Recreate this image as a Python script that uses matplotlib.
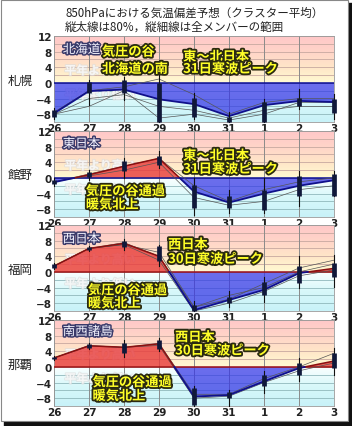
import numpy as np
import matplotlib.pyplot as plt
import matplotlib.patheffects as pe
from matplotlib.colors import LinearSegmentedColormap
from matplotlib.patches import Rectangle

plt.rcParams['font.family'] = ['Noto Sans CJK JP', 'DejaVu Sans']

days = ["26", "27", "28", "29", "30", "31", "1", "2", "3"]
cities = ["札幌", "館野", "福岡", "那覇"]
regions = ["北海道", "東日本", "西日本", "南西諸島"]

# クラスター平均
mean_sapporo = [-7.8, -2.1, -1.7, -4.2, -5.4, -8.5, -5.7, -4.6, -4.9]
mean_tateno = [-1.1, 0.8, 3.0, 5.0, -3.5, -6.3, -4.0, -2.0, -0.6]
mean_fukuoka = [1.5, 6.0, 7.3, 4.0, -9.8, -7.2, -4.6, -0.3, 0.9]
mean_naha = [2.3, 5.4, 5.0, 5.9, -7.6, -7.2, -3.7, -0.3, 1.5]

# 80%範囲 (下, 上)
r80_sapporo = [(-8.6, -7.0), (-2.5, 0.3), (-2.5, 0.8), (-10.0, 0.0), (-8.6, -3.8),
               (-10.0, -8.6), (-10.0, -5.0), (-5.9, -3.8), (-7.6, -4.2)]
r80_tateno = [(-1.6, -0.5), (0.2, 1.5), (1.7, 4.2), (3.4, 5.5), (-7.7, -1.7),
              (-7.7, -4.7), (-8.1, -3.0), (-4.7, 0.4), (-4.7, 1.0)]
r80_fukuoka = [(1.1, 1.9), (5.6, 6.4), (6.5, 8.0), (2.7, 6.6), (-10.0, -8.5),
               (-8.0, -6.5), (-6.0, -2.5), (-2.9, 1.4), (-1.2, 2.3)]
r80_naha = [(2.0, 2.6), (4.8, 5.8), (3.5, 6.2), (4.5, 7.0), (-9.8, -5.5),
            (-8.0, -6.5), (-5.0, -2.0), (-2.0, 1.0), (-0.3, 3.6)]

# 全メンバー範囲 (下, 上)
rall_sapporo = [(-9.2, -6.5), (-5.7, 0.8), (-4.4, 1.5), (-10.0, 2.7), (-9.2, -2.5),
                (-10.0, -7.5), (-10.0, -4.2), (-6.7, -1.5), (-9.2, -2.9)]
rall_tateno = [(-2.0, 0.0), (-0.5, 2.0), (0.0, 5.0), (2.5, 6.8), (-9.4, 0.0),
               (-9.0, -3.0), (-9.0, 0.0), (-7.3, 1.7), (-4.7, 1.7)]
rall_fukuoka = [(0.8, 2.2), (5.3, 6.7), (5.5, 8.5), (1.4, 7.0), (-10.0, -7.5),
                (-9.0, -5.0), (-7.8, -1.2), (-4.2, 4.0), (-3.8, 4.4)]
rall_naha = [(1.8, 2.8), (4.5, 6.2), (2.5, 7.0), (4.0, 7.5), (-10.0, -5.0),
             (-10.0, -6.0), (-6.8, -1.0), (-3.7, 2.3), (-2.0, 4.9)]

# 個別メンバー
members_sapporo = [[-8.0, -4.0, -3.0, -6.0, -7.0, -9.0, -7.0, -6.0, -6.0],
                   [-8.0, -6.0, -2.0, -9.0, -8.0, -9.5, -8.0, -5.0, -5.0],
                   [-7.5, -2.0, -1.0, 1.0, -3.0, -8.0, -5.0, -4.0, -4.0]]
members_tateno = [[-1.0, 1.0, 3.0, 5.0, -2.0, -6.0, -3.0, -1.0, 0.0],
                  [-1.0, 0.5, 2.0, 4.0, -5.0, -7.0, -6.0, -3.0, -2.0]]
members_fukuoka = [[1.5, 6.0, 7.5, 4.0, -9.0, -6.0, -4.0, 0.0, 2.0],
                   [1.5, 6.0, 7.0, 3.0, -10.0, -8.0, -5.0, -1.0, 0.5],
                   [1.5, 6.0, 7.0, 5.0, -9.0, -7.0, -3.0, 1.0, 3.0]]
members_naha = [[2.3, 5.5, 5.0, 6.0, -7.0, -7.0, -3.0, 0.0, 3.5],
                [2.3, 5.3, 5.0, 5.5, -8.0, -7.5, -4.0, -1.0, 1.0]]

means = [mean_sapporo, mean_tateno, mean_fukuoka, mean_naha]
r80s = [r80_sapporo, r80_tateno, r80_fukuoka, r80_naha]
ralls = [rall_sapporo, rall_tateno, rall_fukuoka, rall_naha]
members = [members_sapporo, members_tateno, members_fukuoka, members_naha]

# 注記 (x, y, 文字)
notes = [
    [(1.37, 8.0, "気圧の谷"), (1.37, 3.6, "北海道の南"),
     (3.69, 6.7, "東～北日本"), (3.69, 3.6, "31日寒波ピーク")],
    [(3.69, 5.7, "東～北日本"), (3.69, 2.3, "31日寒波ピーク"),
     (0.91, -3.4, "気圧の谷通過"), (0.91, -6.8, "暖気北上")],
    [(3.26, 7.0, "西日本"), (3.26, 3.3, "30日寒波ピーク"),
     (0.97, -4.7, "気圧の谷通過"), (0.97, -8.0, "暖気北上")],
    [(3.46, 7.6, "西日本"), (3.46, 4.2, "30日寒波ピーク"),
     (1.1, -3.9, "気圧の谷通過"), (1.1, -7.4, "暖気北上")],
]
region_y = [8.5, 8.7, 8.4, 9.0]

W, H = 352, 427
fig = plt.figure(figsize=(W / 100, H / 100), dpi=100)
fig.patch.set_facecolor('white')

# 枠と影
fig.patches.append(Rectangle((4 / W, 0), 1, 5 / H, transform=fig.transFigure,
                             color='#111111', zorder=-1))
fig.patches.append(Rectangle((348 / W, 0), 4 / W, 1 - 4 / H, transform=fig.transFigure,
                             color='#111111', zorder=-1))
fig.patches.append(Rectangle((0.5 / W, 5 / H), 347 / W, 1 - 6 / H, transform=fig.transFigure,
                             facecolor='white', edgecolor='#888888', lw=0.8, zorder=-1))

fig.text(65 / W, 1 - 13 / H, "850hPaにおける気温偏差予想（クラスター平均）",
         fontsize=8.3, color='#222222', va='center', ha='left')
fig.text(65 / W, 1 - 27 / H, "縦太線は80%，縦細線は全メンバーの範囲",
         fontsize=8.3, color='#222222', va='center', ha='left')

warm = LinearSegmentedColormap.from_list('warm', ['#fffad2', '#ffe6c8', '#ffd4c8', '#ffc8c8'])
cold = LinearSegmentedColormap.from_list('cold', ['#c8f2f8', '#d8f8fa', '#fbffff'])

tops = [37, 132, 226, 321]
ph = 86
x = np.arange(len(days))
yellow_fx = [pe.withStroke(linewidth=2.6, foreground='#2a2a10')]
white_fx = [pe.withStroke(linewidth=2.2, foreground='#3a3a6a')]
ghost_fx = [pe.withStroke(linewidth=1.3, foreground='#dcdcdc')]

for i in range(4):
    ax = fig.add_axes([54 / W, 1 - (tops[i] + ph) / H, 280 / W, ph / H])
    ax.set_xlim(0, 8)
    ax.set_ylim(-10, 12)
    grad = np.linspace(0, 1, 100).reshape(-1, 1)
    ax.imshow(grad, cmap=warm, origin='lower', extent=[0, 8, 0, 12], aspect='auto', zorder=0)
    ax.imshow(grad, cmap=cold, origin='lower', extent=[0, 8, -10, 0], aspect='auto', zorder=0)
    for yv in range(-10, 13, 2):
        c = '#c8a8a0' if yv > 0 else '#90b8bc'
        ax.axhline(yv, color=c, lw=0.6, zorder=1)
    for xv in x:
        ax.axvline(xv, color='#8a8a8a', lw=0.7, zorder=1)

    ax.text(0.3, 2.2, "平年より高い", fontsize=8.5, color='white', alpha=0.65,
            fontweight='bold', path_effects=ghost_fx, zorder=1.5)
    ax.text(0.3, -4.0, "平年より低い", fontsize=8.5, color='white', alpha=0.65,
            fontweight='bold', path_effects=ghost_fx, zorder=1.5)

    m = np.array(means[i])
    xf = np.linspace(0, 8, 801)
    mf = np.interp(xf, x, m)
    ax.fill_between(xf, 0, mf, where=mf >= 0, interpolate=True,
                    facecolor='#e83a3a', alpha=0.8, zorder=2, lw=0)
    ax.fill_between(xf, 0, mf, where=mf <= 0, interpolate=True,
                    facecolor='#3535e6', alpha=0.72, zorder=2, lw=0)
    zc = '#10108a' if i < 2 else '#a01010'
    ax.axhline(0, color=zc, lw=1.1, zorder=3)

    for mem in members[i]:
        ax.plot(x, mem, color='#555555', lw=0.5, zorder=3)
    ax.plot(xf, np.where(mf >= 0, mf, np.nan), color='#8a1010', lw=1.1, zorder=4)
    ax.plot(xf, np.where(mf <= 0, mf, np.nan), color='#10108a', lw=1.3, zorder=4)

    for j in range(len(days)):
        lo, hi = ralls[i][j]
        ax.plot([x[j], x[j]], [lo, hi], color='#101010', lw=0.8, zorder=5, clip_on=False)
        lo, hi = r80s[i][j]
        ax.plot([x[j], x[j]], [lo, hi], color='#10183a', lw=3.4, zorder=5,
                solid_capstyle='butt', clip_on=False)

    for (tx, ty, s) in notes[i]:
        ax.text(tx, ty, s, fontsize=9.5, fontweight='bold', color='#ffff28',
                va='center', ha='left', path_effects=yellow_fx, zorder=6)
    ax.text(0.25, region_y[i], regions[i], fontsize=9, color='#f4f4ff',
            va='center', ha='left', path_effects=white_fx, zorder=6)

    ax.set_yticks([12, 8, 4, 0, -4, -8])
    ax.set_yticklabels(["12", "8", "4", "0", "−4", "−8"], family='DejaVu Sans',
                       fontsize=7.5, fontweight='bold', color='#222222')
    ax.set_xticks(x)
    ax.set_xticklabels(days, family='DejaVu Sans', fontsize=7.5,
                       fontweight='bold', color='#222222')
    ax.tick_params(length=0, pad=1.5)
    ax.tick_params(axis='x', pad=0.5)
    for sp in ax.spines.values():
        sp.set_color('#999999')
        sp.set_linewidth(0.6)

    fig.text(20 / W, 1 - (tops[i] + 44) / H, cities[i], fontsize=9,
             color='#222222', ha='center', va='center')

fig.savefig("out.png", dpi=100)
